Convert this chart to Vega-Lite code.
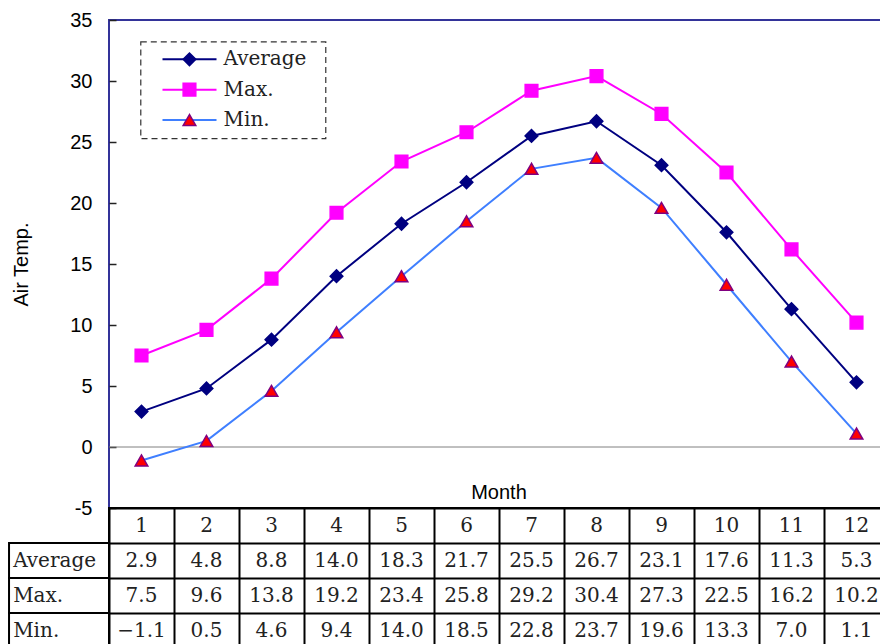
{
  "$schema": "https://vega.github.io/schema/vega-lite/v6.json",
  "background": "white",
  "padding": {"left": 7, "top": 9, "right": 0, "bottom": 0},
  "bounds": "flush",
  "spacing": 0,
  "config": {"view": {"stroke": null}},
  "datasets": {
    "temps": [
      {"month": 1, "series": "Average", "temp": 2.9},
      {"month": 2, "series": "Average", "temp": 4.8},
      {"month": 3, "series": "Average", "temp": 8.8},
      {"month": 4, "series": "Average", "temp": 14.0},
      {"month": 5, "series": "Average", "temp": 18.3},
      {"month": 6, "series": "Average", "temp": 21.7},
      {"month": 7, "series": "Average", "temp": 25.5},
      {"month": 8, "series": "Average", "temp": 26.7},
      {"month": 9, "series": "Average", "temp": 23.1},
      {"month": 10, "series": "Average", "temp": 17.6},
      {"month": 11, "series": "Average", "temp": 11.3},
      {"month": 12, "series": "Average", "temp": 5.3},
      {"month": 1, "series": "Max.", "temp": 7.5},
      {"month": 2, "series": "Max.", "temp": 9.6},
      {"month": 3, "series": "Max.", "temp": 13.8},
      {"month": 4, "series": "Max.", "temp": 19.2},
      {"month": 5, "series": "Max.", "temp": 23.4},
      {"month": 6, "series": "Max.", "temp": 25.8},
      {"month": 7, "series": "Max.", "temp": 29.2},
      {"month": 8, "series": "Max.", "temp": 30.4},
      {"month": 9, "series": "Max.", "temp": 27.3},
      {"month": 10, "series": "Max.", "temp": 22.5},
      {"month": 11, "series": "Max.", "temp": 16.2},
      {"month": 12, "series": "Max.", "temp": 10.2},
      {"month": 1, "series": "Min.", "temp": -1.1},
      {"month": 2, "series": "Min.", "temp": 0.5},
      {"month": 3, "series": "Min.", "temp": 4.6},
      {"month": 4, "series": "Min.", "temp": 9.4},
      {"month": 5, "series": "Min.", "temp": 14.0},
      {"month": 6, "series": "Min.", "temp": 18.5},
      {"month": 7, "series": "Min.", "temp": 22.8},
      {"month": 8, "series": "Min.", "temp": 23.7},
      {"month": 9, "series": "Min.", "temp": 19.6},
      {"month": 10, "series": "Min.", "temp": 13.3},
      {"month": 11, "series": "Min.", "temp": 7.0},
      {"month": 12, "series": "Min.", "temp": 1.1}
    ],
    "series": [
      {"series": "Average"},
      {"series": "Max."},
      {"series": "Min."}
    ]
  },
  "vconcat": [
    {
      "width": 780,
      "height": 488,
      "view": {"stroke": "#333399", "strokeWidth": 2},
      "layer": [
        {
          "data": {"values": [{}]},
          "mark": {"type": "rule", "color": "#808080", "strokeWidth": 1},
          "encoding": {
            "y": {
              "datum": 0,
              "type": "quantitative",
              "scale": {"domain": [-5, 35], "nice": false, "zero": false},
              "axis": {
                "orient": "left",
                "values": [-5, 0, 5, 10, 15, 20, 25, 30, 35],
                "labelExpr": "'' + datum.value",
                "labelFont": "Liberation Sans",
                "labelFontSize": 20,
                "labelColor": "black",
                "labelPadding": 17,
                "offset": -7,
                "tickSize": 7,
                "tickColor": "#222222",
                "tickWidth": 1.5,
                "domain": false,
                "grid": false,
                "title": "Air Temp.",
                "titleFont": "Liberation Sans",
                "titleFontSize": 20,
                "titleFontWeight": "normal",
                "titleColor": "black",
                "titlePadding": 38
              }
            }
          }
        },
        {
          "data": {"name": "temps"},
          "mark": {"type": "line", "strokeWidth": 2},
          "encoding": {
            "x": {"field": "month", "type": "quantitative", "scale": {"domain": [0.5, 12.5], "nice": false, "zero": false}, "axis": null},
            "y": {"field": "temp", "type": "quantitative", "scale": {"domain": [-5, 35], "nice": false, "zero": false}, "axis": null},
            "color": {"field": "series", "type": "nominal", "scale": {"domain": ["Average", "Max.", "Min."], "range": ["#000080", "#FF00FF", "#3F7FFF"]}, "legend": null}
          }
        },
        {
          "data": {"name": "temps"},
          "mark": {"type": "point", "filled": true, "size": 160, "strokeWidth": 1.5, "opacity": 1},
          "encoding": {
            "x": {"field": "month", "type": "quantitative", "scale": {"domain": [0.5, 12.5], "nice": false, "zero": false}, "axis": null},
            "y": {"field": "temp", "type": "quantitative", "scale": {"domain": [-5, 35], "nice": false, "zero": false}, "axis": null},
            "shape": {"field": "series", "type": "nominal", "scale": {"domain": ["Average", "Max.", "Min."], "range": ["diamond", "square", "triangle-up"]}, "legend": null},
            "fill": {"field": "series", "type": "nominal", "scale": {"domain": ["Average", "Max.", "Min."], "range": ["#000080", "#FF00FF", "#FF0000"]}, "legend": null},
            "stroke": {"field": "series", "type": "nominal", "scale": {"domain": ["Average", "Max.", "Min."], "range": ["#000080", "#FF00FF", "#800080"]}, "legend": null}
          }
        },
        {
          "data": {"values": [{}]},
          "mark": {"type": "rect", "fill": "white", "stroke": "#333333", "strokeWidth": 1.2, "strokeDash": [6, 4]},
          "encoding": {
            "x": {"datum": 0.989, "type": "quantitative"},
            "x2": {"datum": 3.835},
            "y": {"datum": 33.2, "type": "quantitative", "scale": {"domain": [-5, 35], "nice": false, "zero": false}, "axis": null},
            "y2": {"datum": 25.27}
          }
        },
        {
          "data": {"name": "series"},
          "mark": {"type": "rule", "strokeWidth": 2},
          "encoding": {
            "x": {"datum": 1.323, "type": "quantitative"},
            "x2": {"datum": 2.154},
            "y": {"field": "series", "type": "nominal", "scale": {"type": "point", "domain": ["Average", "Max.", "Min."], "range": [39.3, 100], "padding": 0}, "axis": null},
            "color": {"field": "series", "type": "nominal", "legend": null}
          }
        },
        {
          "data": {"name": "series"},
          "mark": {"type": "point", "filled": true, "size": 160, "strokeWidth": 1.5, "opacity": 1},
          "encoding": {
            "x": {"datum": 1.738, "type": "quantitative"},
            "y": {"field": "series", "type": "nominal", "scale": {"type": "point", "domain": ["Average", "Max.", "Min."], "range": [39.3, 100], "padding": 0}, "axis": null},
            "shape": {"field": "series", "type": "nominal", "legend": null},
            "fill": {"field": "series", "type": "nominal", "legend": null},
            "stroke": {"field": "series", "type": "nominal", "legend": null}
          }
        },
        {
          "data": {"name": "series"},
          "mark": {"type": "text", "align": "left", "baseline": "middle", "font": "DejaVu Serif", "fontSize": 20, "color": "#222222"},
          "encoding": {
            "x": {"datum": 2.262, "type": "quantitative"},
            "y": {"field": "series", "type": "nominal", "scale": {"type": "point", "domain": ["Average", "Max.", "Min."], "range": [39.3, 100], "padding": 0}, "axis": null},
            "text": {"field": "series"}
          }
        },
        {
          "data": {"values": [{}]},
          "mark": {"type": "text", "align": "center", "baseline": "bottom", "dy": -5, "font": "Liberation Sans", "fontSize": 20, "color": "black"},
          "encoding": {
            "x": {"datum": 6.5, "type": "quantitative"},
            "y": {"datum": -5, "type": "quantitative", "scale": {"domain": [-5, 35], "nice": false, "zero": false}, "axis": null},
            "text": {"value": "Month"}
          }
        }
      ],
      "resolve": {"scale": {"y": "independent"}, "axis": {"y": "independent"}}
    },
    {
      "width": 780,
      "height": 140,
      "view": {"stroke": "black", "strokeWidth": 2},
      "layer": [
        {
          "data": {"name": "temps"},
          "mark": {"type": "text", "align": "center", "baseline": "middle", "font": "DejaVu Serif", "fontSize": 20, "color": "#222222"},
          "encoding": {
            "x": {
              "field": "month",
              "type": "quantitative",
              "scale": {"domain": [0.5, 12.5], "nice": false, "zero": false},
              "axis": {
                "values": [0.5, 1.5, 2.5, 3.5, 4.5, 5.5, 6.5, 7.5, 8.5, 9.5, 10.5, 11.5, 12.5],
                "grid": true,
                "gridColor": "black",
                "gridWidth": 2,
                "gridOpacity": 1,
                "labels": false,
                "ticks": false,
                "domain": false,
                "title": null
              }
            },
            "y": {
              "field": "series",
              "type": "nominal",
              "scale": {"type": "band", "domain": ["Month", "Average", "Max.", "Min."], "paddingInner": 0, "paddingOuter": 0},
              "axis": {
                "bandPosition": 0,
                "grid": true,
                "gridColor": "black",
                "gridWidth": 2,
                "gridOpacity": 1,
                "labels": false,
                "ticks": false,
                "domain": false,
                "title": null
              }
            },
            "text": {"field": "temp", "type": "quantitative", "format": ".1f"}
          }
        },
        {
          "data": {"name": "temps"},
          "transform": [{"filter": "datum.series === 'Average'"}],
          "mark": {"type": "text", "align": "center", "baseline": "middle", "font": "DejaVu Serif", "fontSize": 20, "color": "#222222"},
          "encoding": {
            "x": {"field": "month", "type": "quantitative"},
            "y": {"datum": "Month", "type": "nominal"},
            "text": {"field": "month", "type": "quantitative"}
          }
        },
        {
          "data": {"name": "series"},
          "mark": {"type": "rect", "fill": "white", "stroke": "black", "strokeWidth": 2},
          "encoding": {
            "x": {"datum": -1.038, "type": "quantitative"},
            "x2": {"datum": 0.5},
            "y": {"field": "series", "type": "nominal"}
          }
        },
        {
          "data": {"name": "series"},
          "mark": {"type": "text", "align": "left", "baseline": "middle", "font": "DejaVu Serif", "fontSize": 20, "color": "#222222", "clip": false},
          "encoding": {
            "x": {"datum": -0.975, "type": "quantitative"},
            "y": {"field": "series", "type": "nominal"},
            "text": {"field": "series"}
          }
        }
      ]
    }
  ]
}
